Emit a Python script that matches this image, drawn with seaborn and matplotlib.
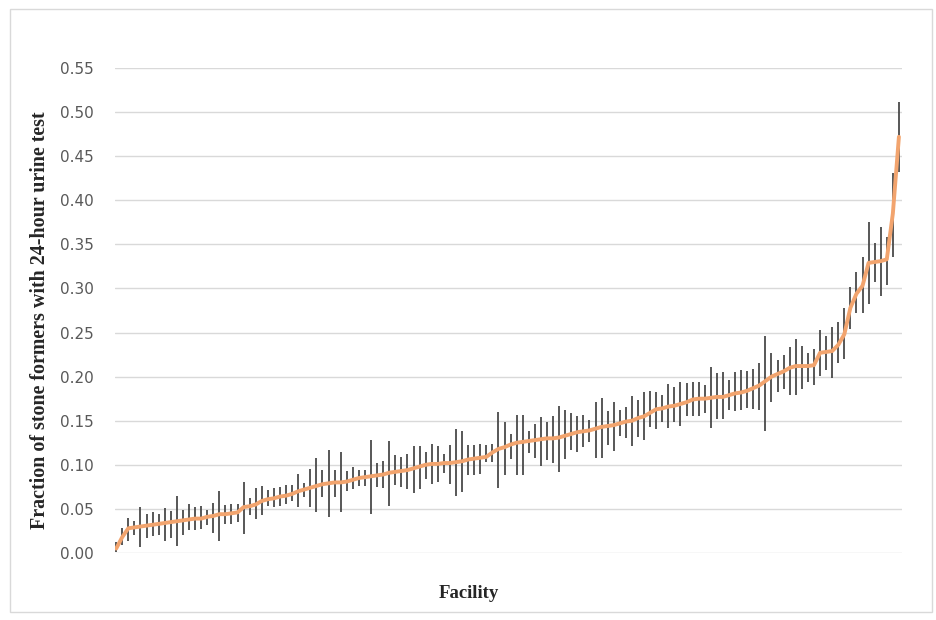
"""
Facility-level fraction of stone formers with a 24-hour urine test,
sorted ascending, with 95% confidence intervals.
"""
import numpy as np
import pandas as pd
import matplotlib
matplotlib.use('Agg')
import matplotlib.pyplot as plt
import matplotlib.patches as mpatches
import seaborn as sns

sns.set_theme(style='white')
plt.rcParams['font.family'] = ['DejaVu Sans']

LINE_COLOR = '#F2A46E'
ERR_COLOR = '#4A4A4A'
GRID_COLOR = '#D9D9D9'
TICK_COLOR = '#595959'

# point estimates, sorted (one per facility)
rate = [
    0.005, 0.018, 0.028, 0.029, 0.030, 0.031, 0.032, 0.033, 0.034, 0.035,
    0.036, 0.037, 0.038, 0.039, 0.039, 0.041, 0.042, 0.044, 0.044, 0.045,
    0.046, 0.052, 0.053, 0.055, 0.059, 0.061, 0.062, 0.064, 0.065, 0.067,
    0.070, 0.072, 0.074, 0.076, 0.078, 0.079, 0.080, 0.080, 0.081, 0.083,
    0.085, 0.086, 0.087, 0.088, 0.089, 0.091, 0.092, 0.093, 0.094, 0.096,
    0.098, 0.100, 0.101, 0.101, 0.102, 0.102, 0.103, 0.104, 0.106, 0.107,
    0.108, 0.109, 0.114, 0.118, 0.120, 0.123, 0.125, 0.126, 0.127, 0.128,
    0.129, 0.130, 0.130, 0.131, 0.133, 0.135, 0.137, 0.138, 0.139, 0.141,
    0.143, 0.144, 0.145, 0.147, 0.149, 0.150, 0.153, 0.155, 0.159, 0.163,
    0.164, 0.166, 0.167, 0.169, 0.171, 0.174, 0.175, 0.175, 0.176, 0.177,
    0.177, 0.179, 0.181, 0.182, 0.184, 0.187, 0.190, 0.195, 0.200, 0.203,
    0.206, 0.210, 0.212, 0.212, 0.212, 0.213, 0.227, 0.228, 0.229, 0.236,
    0.248, 0.278, 0.294, 0.303, 0.329, 0.330, 0.331, 0.333, 0.385, 0.472,
]
lower = [
    0.001, 0.009, 0.014, 0.020, 0.007, 0.017, 0.019, 0.020, 0.014, 0.017,
    0.008, 0.020, 0.026, 0.026, 0.027, 0.032, 0.023, 0.014, 0.033, 0.033,
    0.035, 0.021, 0.043, 0.039, 0.043, 0.053, 0.052, 0.053, 0.056, 0.059,
    0.052, 0.063, 0.052, 0.046, 0.064, 0.041, 0.063, 0.046, 0.070, 0.072,
    0.076, 0.076, 0.044, 0.075, 0.074, 0.053, 0.077, 0.075, 0.073, 0.068,
    0.073, 0.084, 0.078, 0.081, 0.091, 0.078, 0.065, 0.069, 0.088, 0.089,
    0.090, 0.103, 0.103, 0.074, 0.089, 0.107, 0.089, 0.089, 0.113, 0.108,
    0.099, 0.105, 0.102, 0.092, 0.107, 0.117, 0.115, 0.120, 0.126, 0.108,
    0.108, 0.123, 0.116, 0.133, 0.130, 0.121, 0.132, 0.128, 0.143, 0.141,
    0.148, 0.142, 0.148, 0.144, 0.155, 0.155, 0.155, 0.159, 0.142, 0.152,
    0.152, 0.162, 0.161, 0.162, 0.164, 0.163, 0.162, 0.138, 0.171, 0.183,
    0.186, 0.179, 0.179, 0.186, 0.194, 0.190, 0.201, 0.207, 0.199, 0.216,
    0.220, 0.254, 0.272, 0.272, 0.282, 0.307, 0.291, 0.304, 0.336, 0.432,
]
upper = [
    0.013, 0.028, 0.040, 0.036, 0.052, 0.044, 0.046, 0.044, 0.051, 0.048,
    0.065, 0.049, 0.055, 0.052, 0.053, 0.049, 0.057, 0.070, 0.054, 0.056,
    0.056, 0.081, 0.062, 0.074, 0.076, 0.071, 0.074, 0.075, 0.077, 0.077,
    0.090, 0.079, 0.095, 0.108, 0.094, 0.117, 0.094, 0.114, 0.093, 0.098,
    0.094, 0.094, 0.128, 0.102, 0.104, 0.127, 0.111, 0.109, 0.112, 0.121,
    0.121, 0.114, 0.124, 0.121, 0.112, 0.122, 0.141, 0.138, 0.123, 0.123,
    0.124, 0.123, 0.124, 0.160, 0.148, 0.135, 0.156, 0.157, 0.138, 0.146,
    0.154, 0.149, 0.155, 0.167, 0.162, 0.159, 0.155, 0.156, 0.151, 0.171,
    0.176, 0.161, 0.171, 0.162, 0.165, 0.178, 0.174, 0.183, 0.184, 0.183,
    0.179, 0.192, 0.188, 0.194, 0.193, 0.194, 0.194, 0.190, 0.211, 0.204,
    0.205, 0.196, 0.205, 0.207, 0.206, 0.209, 0.216, 0.246, 0.227, 0.219,
    0.225, 0.234, 0.243, 0.235, 0.227, 0.231, 0.253, 0.246, 0.256, 0.262,
    0.278, 0.302, 0.319, 0.336, 0.375, 0.351, 0.370, 0.358, 0.431, 0.512,
]
y_ticks = [0.00, 0.05, 0.10, 0.15, 0.20, 0.25, 0.30, 0.35, 0.40, 0.45, 0.50, 0.55]

df = pd.DataFrame({'facility': np.arange(len(rate)), 'rate': rate,
                   'lower': lower, 'upper': upper})

fig = plt.figure(figsize=(9.37, 6.2), dpi=100)
ax = fig.add_axes([0.1227, 0.1081, 0.8399, 0.7822])

# light frame round the whole chart, like the exported office chart
fig.patches.append(mpatches.Rectangle((0.011, 0.013), 0.984, 0.972, transform=fig.transFigure,
                                      fill=False, edgecolor=GRID_COLOR, linewidth=1.0))

for t in y_ticks:
    ax.axhline(t, color=GRID_COLOR, linewidth=1.0, zorder=0)

ax.vlines(df['facility'], df['lower'], df['upper'], color=ERR_COLOR, linewidth=1.3, zorder=2)
sns.lineplot(data=df, x='facility', y='rate', ax=ax, color=LINE_COLOR,
             linewidth=2.8, zorder=3, solid_capstyle='round')

ax.set_xlim(-0.2, len(rate) - 0.5)
ax.set_ylim(0, 0.55)
ax.set_yticks(y_ticks)
ax.set_yticklabels([f'{t:.2f}' for t in y_ticks], fontsize=11, color=TICK_COLOR)
ax.set_xticks([])
ax.tick_params(axis='y', length=0, pad=15)
for s in ax.spines.values():
    s.set_visible(False)
ax.set_xlabel('')
ax.set_ylabel('')

fig.text(40 / 937, 1 - 320 / 620, 'Fraction of stone formers with 24-hour urine test',
         rotation=90, ha='center', va='center',
         family=['Liberation Serif'], fontweight='bold', fontsize=14.4)
fig.text(0.5, 0.043, 'Facility', ha='center', va='center',
         family=['Liberation Serif'], fontweight='bold', fontsize=13.5)

fig.savefig('out.png', dpi=100)
